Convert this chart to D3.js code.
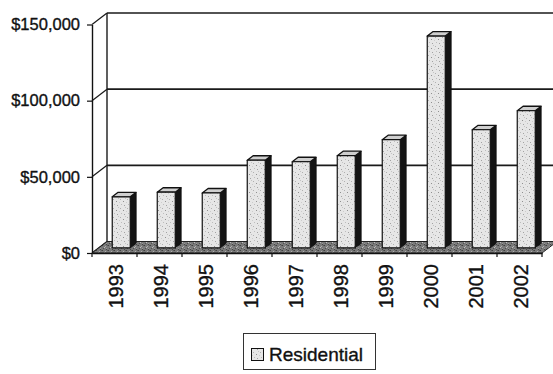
<!DOCTYPE html>
<html>
<head>
<meta charset="utf-8">
<script src="https://cdn.jsdelivr.net/npm/d3@7"></script>
<style>
  html, body { margin: 0; padding: 0; background: #fff; }
  svg { display: block; }
  text { font-family: "Liberation Sans", Arial, sans-serif; fill: #111; stroke: #111; stroke-width: 0.35px; }
</style>
</head>
<body>
<script>
// Annual residential totals
const years = ["1993", "1994", "1995", "1996", "1997", "1998", "1999", "2000", "2001", "2002"];
const residential = [33500, 36500, 36000, 57500, 56500, 60500, 71000, 139000, 77500, 90000];
const yTicks = [0, 50000, 100000, 150000];
const seriesName = "Residential";

const W = 553, H = 374;
const svg = d3.select("body").append("svg").attr("width", W).attr("height", H);

// 3-D depth offset of the back wall relative to the front plane
const DX = 15, DY = -11.5;
const proj = (px, py, d) => [px + DX * d, py + DY * d];

const x = d3.scaleBand().domain(years).range([92, 542]).paddingInner(0).paddingOuter(0);
const y = d3.scaleLinear().domain([0, 150000]).range([253, 24.5]);

// Fill textures
const defs = svg.append("defs");
const stip = defs.append("pattern").attr("id", "stipple").attr("patternUnits", "userSpaceOnUse")
  .attr("width", 7).attr("height", 9);
stip.append("rect").attr("width", 7).attr("height", 9).attr("fill", "#e6e6e6");
[[1, 1, "#b0b0b0"], [4, 3, "#909090"], [2, 6, "#bdbdbd"], [5, 7, "#a2a2a2"], [0, 4, "#cccccc"], [6, 0, "#c4c4c4"]].forEach(([a, b, c]) =>
  stip.append("rect").attr("x", a).attr("y", b).attr("width", 1).attr("height", 1).attr("fill", c));

const floorPat = defs.append("pattern").attr("id", "floorTex").attr("patternUnits", "userSpaceOnUse")
  .attr("width", 6).attr("height", 5);
floorPat.append("rect").attr("width", 6).attr("height", 5).attr("fill", "#7a7a7a");
[[0, 0, "#404040"], [3, 1, "#b0b0b0"], [1, 3, "#505050"], [4, 3, "#999"], [5, 0, "#5a5a5a"], [2, 2, "#c0c0c0"], [4, 4, "#454545"]].forEach(([a, b, c]) =>
  floorPat.append("rect").attr("x", a).attr("y", b).attr("width", 1).attr("height", 1).attr("fill", c));

const y0 = y(0);
const xL = x.range()[0], xR = x.range()[1];

// Back wall
const wallTop = proj(xL, y(150000), 1);
svg.append("rect").attr("x", wallTop[0]).attr("y", wallTop[1])
  .attr("width", W - wallTop[0] + 2).attr("height", proj(xL, y0, 1)[1] - wallTop[1])
  .attr("fill", "#fff");

// Back-wall gridlines and the side connectors to the front axis
const grid = svg.append("g").attr("stroke", "#1a1a1a").attr("fill", "none");
yTicks.forEach(t => {
  const b = proj(xL, y(t), 1);
  if (t > 0) grid.append("line").attr("x1", b[0]).attr("y1", b[1]).attr("x2", W + 2).attr("y2", b[1]).attr("stroke-width", 1.6);
  grid.append("line").attr("x1", xL).attr("y1", y(t)).attr("x2", b[0]).attr("y2", b[1]).attr("stroke-width", 1.2);
});
grid.append("line").attr("x1", wallTop[0]).attr("y1", wallTop[1])
  .attr("x2", wallTop[0]).attr("y2", proj(xL, y0, 1)[1]).attr("stroke-width", 1.4);

// Floor
const floorPts = [proj(xL, y0, 0), proj(xR, y0, 0), proj(xR, y0, 1), proj(xL, y0, 1)];
svg.append("polygon").attr("points", floorPts.map(p => p.join(",")).join(" "))
  .attr("fill", "url(#floorTex)").attr("stroke", "#222").attr("stroke-width", 1);

// Columns
const d0 = 0.45, d1 = 0.84;
const barW = x.bandwidth() / 2.5;
const bars = svg.append("g");
years.forEach((yr, i) => {
  const v = residential[i];
  const bx0 = x(yr) + (x.bandwidth() - barW) / 2, bx1 = bx0 + barW;
  const g = bars.append("g").attr("stroke", "#111").attr("stroke-width", 1).attr("stroke-linejoin", "round");
  const pts = arr => arr.map(p => p.join(",")).join(" ");
  // right side
  g.append("polygon").attr("points", pts([proj(bx1, y0, d0), proj(bx1, y0, d1), proj(bx1, y(v), d1), proj(bx1, y(v), d0)]))
    .attr("fill", "#141414");
  // top
  g.append("polygon").attr("points", pts([proj(bx0, y(v), d0), proj(bx1, y(v), d0), proj(bx1, y(v), d1), proj(bx0, y(v), d1)]))
    .attr("fill", "#cfcfcf").attr("stroke-width", 1.3);
  // front face
  g.append("polygon").attr("points", pts([proj(bx0, y0, d0), proj(bx1, y0, d0), proj(bx1, y(v), d0), proj(bx0, y(v), d0)]))
    .attr("fill", "url(#stipple)").attr("stroke-width", 1.2);
});

// Value axis
const yAxis = svg.append("g").attr("transform", `translate(${xL},0)`)
  .call(d3.axisLeft(y).tickValues(yTicks).tickFormat(d => "$" + d3.format(",")(d))
    .tickSize(5).tickSizeOuter(0).tickPadding(7));
yAxis.select(".domain").attr("stroke", "#111").attr("stroke-width", 1.4);
yAxis.selectAll(".tick line").attr("stroke", "#111").attr("stroke-width", 1.2);
yAxis.selectAll("text").style("font-size", "16.5px").attr("fill", "#111");

// Category axis
const xAxis = svg.append("g").attr("transform", `translate(0,${y0})`)
  .call(d3.axisBottom(x).tickSize(0).tickPadding(0));
xAxis.select(".domain").attr("stroke", "#111").attr("stroke-width", 1.6);
xAxis.selectAll(".tick").attr("transform", d => `translate(${x(d) + x.bandwidth() / 2 + 1},0)`);
xAxis.selectAll("text")
  .attr("transform", "rotate(-90)").attr("x", -11).attr("y", 0).attr("dy", "0.36em")
  .attr("text-anchor", "end").style("font-size", "20px").attr("fill", "#111");
const bounds = years.map(yr => x(yr)).concat([xR]);
xAxis.selectAll(".bound").data(bounds).enter().append("line").attr("class", "bound")
  .attr("x1", d => d).attr("x2", d => d).attr("y1", 0).attr("y2", 4)
  .attr("stroke", "#111").attr("stroke-width", 1.2);

// Legend
const lg = svg.append("g");
lg.append("rect").attr("x", 243.5).attr("y", 333.5).attr("width", 132).attr("height", 36)
  .attr("fill", "#fff").attr("stroke", "#333").attr("stroke-width", 1);
lg.append("rect").attr("x", 251.5).attr("y", 348.5).attr("width", 12).attr("height", 12)
  .attr("fill", "url(#stipple)").attr("stroke", "#111").attr("stroke-width", 1);
lg.append("text").attr("x", 269).attr("y", 361).style("font-size", "19px").text(seriesName);
</script>
</body>
</html>
